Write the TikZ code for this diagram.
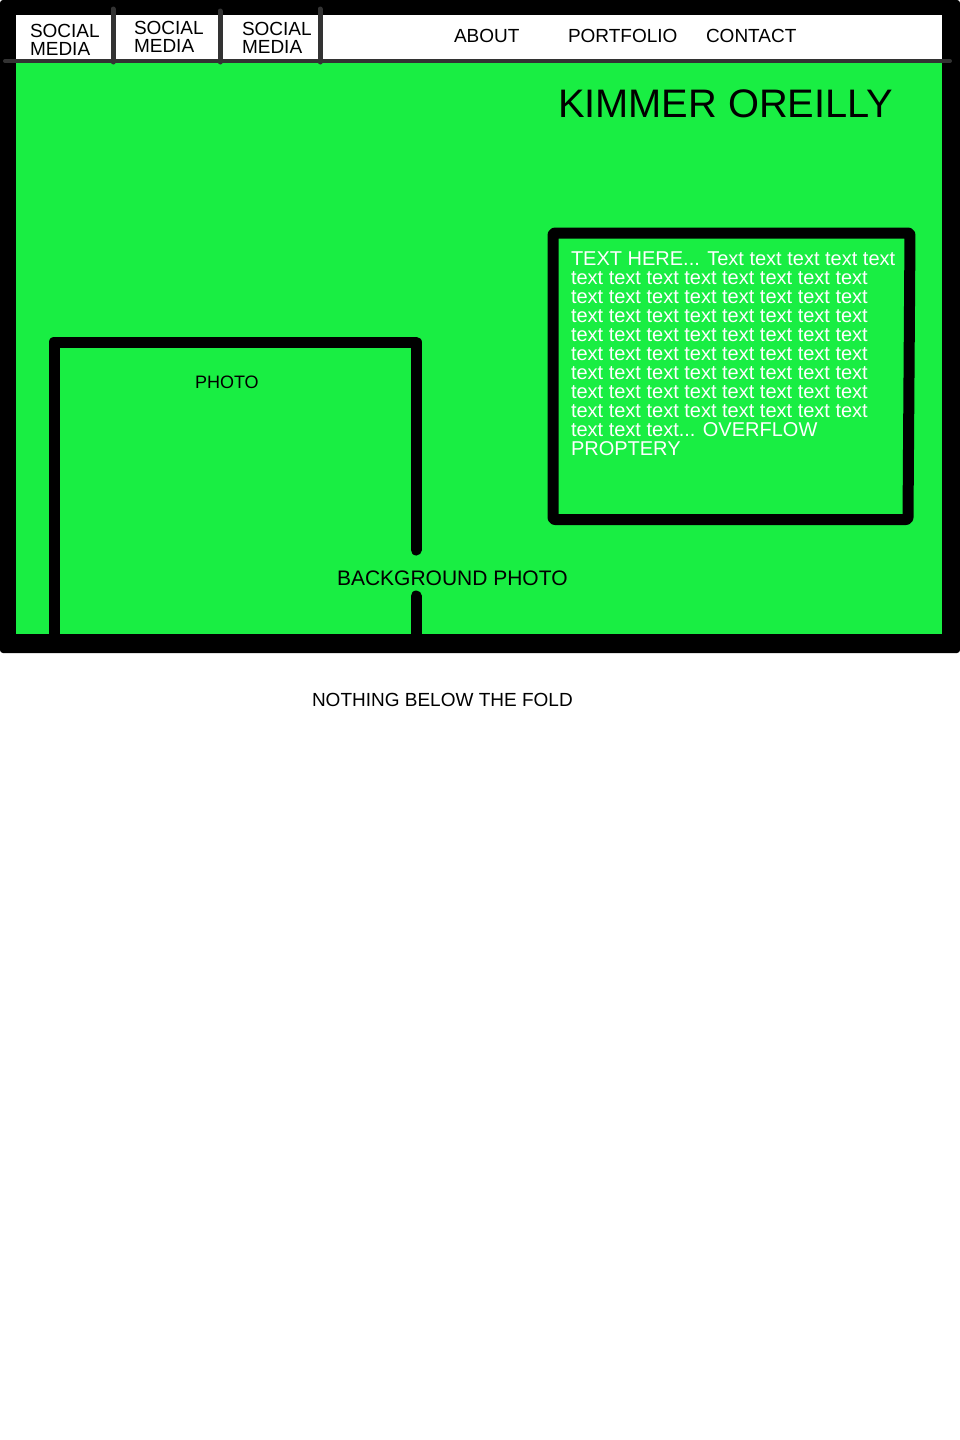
\documentclass[tikz,border=0pt]{standalone}
\usepackage{fontspec}
\setmainfont{Liberation Sans}
\definecolor{wfgreen}{RGB}{25,238,67}
\definecolor{navgray}{RGB}{51,51,51}
\begin{document}
\begin{tikzpicture}[x=1pt,y=-1pt,
  lbl/.style={inner sep=0pt, outer sep=0pt, anchor=base west, font=\fontsize{19}{18}\selectfont},
  social/.style={inner sep=0pt, outer sep=0pt, anchor=north west, align=left, font=\fontsize{19}{18}\selectfont},
  wire/.style={line width=11pt, line cap=round, line join=round},
  sepline/.style={navgray, line width=5pt, line cap=round},
]
\useasboundingbox (0,0) rectangle (960,1440);
\fill[white] (0,0) rectangle (960,1440);
% frame of the viewport
\fill[black, rounded corners=3pt] (0,0) rectangle (960,653);
\fill[wfgreen] (16,62) rectangle (942,634);
% navigation bar
\fill[white] (16,15) rectangle (942,60);
\draw[navgray, line width=4pt, line cap=round] (5,61) -- (950,61);
\draw[sepline] (113,9) -- (113,62);
\draw[sepline] (220,11) -- (220,62);
\draw[sepline] (320,9) -- (320,62);
\node[social] (sm1) at (30,23.8) {SOCIAL\\MEDIA};
\node[social] (sm2) at (134,21.1) {SOCIAL\\MEDIA};
\node[social] (sm3) at (242,22.1) {SOCIAL\\MEDIA};
\node[lbl] (about) at (454,42) {ABOUT};
\node[lbl] (portfolio) at (568,42) {PORTFOLIO};
\node[lbl] (contact) at (706,42) {CONTACT};
% title
\node[lbl, font=\fontsize{39.8}{42}\selectfont] (title) at (558,117) {KIMMER OREILLY};
% text box
\draw[wire, rounded corners=2pt] (553,233) -- (910,233) -- (908,519.5) -- (553,519.5) -- cycle;
\node[inner sep=0pt, outer sep=0pt, anchor=north west, align=left, text=white,
      font=\fontsize{20}{19}\selectfont] (body) at (571,251.7)
  {TEXT HERE... Text text text text text\\
   text text text text text text text text\\
   text text text text text text text text\\
   text text text text text text text text\\
   text text text text text text text text\\
   text text text text text text text text\\
   text text text text text text text text\\
   text text text text text text text text\\
   text text text text text text text text\\
   text text text... OVERFLOW\\
   PROPTERY};
% photo box
\draw[wire] (54,634) -- (54,342) -- (416,342) -- (416,550);
\draw[wire] (416,596) -- (416,634);
\node[lbl, font=\fontsize{18}{20}\selectfont] (photo) at (195,388) {PHOTO};
\node[lbl, font=\fontsize{21}{22}\selectfont] (bg) at (337,585) {BACKGROUND PHOTO};
% below the fold
\node[lbl, font=\fontsize{19}{21}\selectfont] (fold) at (312,706) {NOTHING BELOW THE FOLD};
\end{tikzpicture}
\end{document}
